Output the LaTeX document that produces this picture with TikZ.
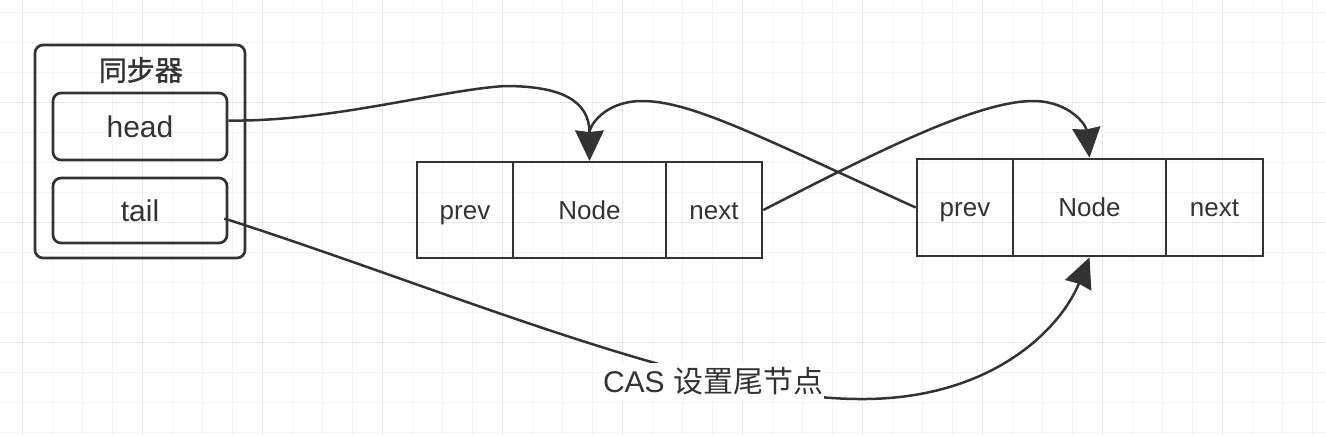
\documentclass[tikz,border=0pt]{standalone}
\usepackage{fontspec}
\setmainfont{Liberation Sans}
\newfontfamily\cjk{Noto Sans CJK SC}
\newfontfamily\cjkbold{Noto Sans CJK SC}[FakeBold=1.2]
\usetikzlibrary{arrows.meta}
\definecolor{ink}{HTML}{333333}
\definecolor{gridminor}{HTML}{F4F4F4}
\definecolor{gridmajor}{HTML}{E8E8E8}
\tikzset{
  roundbox/.style={draw=ink, line width=1.35pt, rounded corners=4pt, inner sep=0pt, text=ink},
  cellbox/.style={draw=ink, line width=1.35pt, inner sep=0pt, text=ink, minimum height=48pt, text height=0.92em, text depth=0pt, font=\fontsize{13pt}{15pt}\selectfont},
  link/.style={draw=ink, line width=1.25pt, -{Stealth[length=15pt,width=14pt,inset=0.8pt]}},
}
\begin{document}
\begin{tikzpicture}[x=0.5pt,y=-0.5pt]
\useasboundingbox (0,0) rectangle (1326,436);
\fill[white] (0,0) rectangle (1326,436);
% grid
\foreach \i in {0,...,43} {
  \pgfmathsetmacro{\gx}{22.7+30*\i}
  \pgfmathtruncatemacro{\m}{mod(\i,4)}
  \ifnum\m=0
    \draw[gridmajor, line width=0.55pt] (\gx,0) -- (\gx,436);
  \else
    \draw[gridminor, line width=0.5pt] (\gx,0) -- (\gx,436);
  \fi
}
\foreach \j in {0,...,14} {
  \pgfmathsetmacro{\gy}{12.7+30*\j}
  \pgfmathtruncatemacro{\m}{mod(\j,4)}
  \ifnum\m=3
    \draw[gridmajor, line width=0.55pt] (0,\gy) -- (1326,\gy);
  \else
    \draw[gridminor, line width=0.5pt] (0,\gy) -- (1326,\gy);
  \fi
}
% synchronizer
\node[roundbox, minimum width=105pt, minimum height=106.5pt] (sync) at (140,151.5) {};
\node[text=ink, font=\fontsize{14pt}{16pt}\selectfont\cjkbold] (title) at (140.8,70) {同步器};
\node[roundbox, minimum width=87pt, minimum height=33.5pt, font=\fontsize{15pt}{17pt}\selectfont] (head) at (140,126.5) {head};
\node[roundbox, minimum width=87pt, minimum height=32.5pt, font=\fontsize{15pt}{17pt}\selectfont] (tail) at (140,210.5) {tail};
% node 1
\node[cellbox, minimum width=48pt] (aprev) at (465,210) {prev};
\node[cellbox, minimum width=76.5pt] (anode) at (589.5,210) {Node};
\node[cellbox, minimum width=48pt] (anext) at (714,210) {next};
% node 2
\node[cellbox, minimum width=48pt, minimum height=48.5pt] (bprev) at (965,207.5) {prev};
\node[cellbox, minimum width=76.5pt, minimum height=48.5pt] (bnode) at (1089.5,207.5) {Node};
\node[cellbox, minimum width=48.5pt, minimum height=48.5pt] (bnext) at (1214.5,207.5) {next};
% connectors
\draw[link] ([yshift=3pt]head.east) .. controls (330,122) and (440,90) .. (505,86)
  .. controls (560,86) and (589.5,100) .. (anode.north);
\draw[link] (bprev.west) .. controls (760,137) and (690,100) .. (640,101)
  .. controls (605,102) and (589.5,125) .. (anode.north);
\draw[link] (anext.east) .. controls (880,150) and (980,100) .. (1035,101)
  .. controls (1070,102) and (1086,125) .. (bnode.north);
\draw[link] ([xshift=-2pt,yshift=-4pt]tail.east) .. controls (450,291) and (700,399) .. (860,399)
  .. controls (990,400) and (1060,330) .. (bnode.south);
\node[fill=white, inner sep=0pt, minimum width=111pt, minimum height=18.5pt, text=ink, font=\fontsize{15pt}{17pt}\selectfont] (lbl) at (713,381) {CAS {\cjk 设置尾节点}};
\end{tikzpicture}
\end{document}
